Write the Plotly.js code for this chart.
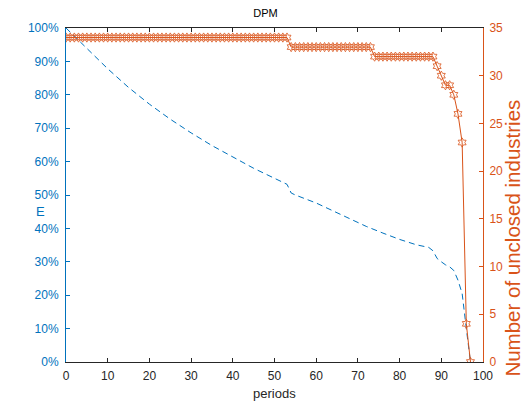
<!DOCTYPE html>
<html>
<head>
<meta charset="utf-8">
<script src="https://cdn.plot.ly/plotly-3.0.1.min.js"></script>
<style>html,body{margin:0;padding:0;background:#fff;}#chart{width:531px;height:403px;}</style>
</head>
<body>
<div id="chart"></div>
<script>
// Number of unclosed industries per period (right axis)
const industryPeriods = [
  0,1,2,3,4,5,6,7,8,9,10,11,12,13,14,15,16,17,18,19,20,21,22,23,24,25,26,27,28,29,
  30,31,32,33,34,35,36,37,38,39,40,41,42,43,44,45,46,47,48,49,50,51,52,53,54,55,56,57,58,59,
  60,61,62,63,64,65,66,67,68,69,70,71,72,73,74,75,76,77,78,79,80,81,82,83,84,85,86,87,88,89,
  90,91,92,93,94,95,96,97
];
const unclosedIndustries = [
  34,34,34,34,34,34,34,34,34,34,
  34,34,34,34,34,34,34,34,34,34,
  34,34,34,34,34,34,34,34,34,34,
  34,34,34,34,34,34,34,34,34,34,
  34,34,34,34,34,34,34,34,34,34,
  34,34,34,34,
  33,33,33,33,33,33,33,33,33,33,
  33,33,33,33,33,33,33,33,33,33,
  32,32,32,32,32,32,32,32,32,32,
  32,32,32,32,32,
  31,30,29,29,28,26,23,4,0
];
// E (left axis), read at the periods where the curve was read
const ePeriods = [0,5,10,15,20,25,30,35,40,45,50,53,54,55,60,64,68,72,76,80,84,87,88,89,90,91,92,93,94,95,96,97];
const eValues  = [1.00,0.94,0.878,0.822,0.772,0.727,0.686,0.648,0.613,0.580,0.550,0.532,0.506,0.500,0.476,0.452,0.428,0.406,0.386,0.367,0.351,0.343,0.333,0.310,0.300,0.291,0.285,0.274,0.245,0.205,0.100,0.0];

const blue = '#0072BD';
const orange = '#D95319';
const font = 'Liberation Sans, Arial, Helvetica, sans-serif';

const traces = [
  {
    x: ePeriods, y: eValues, type: 'scatter', mode: 'lines',
    line: {color: blue, width: 1, dash: '6px,4px'},
    yaxis: 'y', hoverinfo: 'skip'
  },
  {
    x: industryPeriods, y: unclosedIndustries, type: 'scatter', mode: 'lines+markers',
    line: {color: orange, width: 1},
    marker: {symbol: 'hexagram-open', size: 7, color: orange, line: {color: orange, width: 0.8}},
    yaxis: 'y2', hoverinfo: 'skip', cliponaxis: true
  }
];

const layout = {
  width: 531, height: 403,
  margin: {l: 66, r: 48, t: 28, b: 41, pad: 0},
  paper_bgcolor: '#fff', plot_bgcolor: '#fff',
  showlegend: false,
  font: {family: font, size: 12, color: '#262626'},
  title: {text: 'DPM', font: {family: font, size: 11, color: '#000'}, x: 0.5, xanchor: 'center', y: 0.967, yanchor: 'middle'},
  xaxis: {
    range: [0, 100], dtick: 10, tick0: 0,
    showgrid: false, zeroline: false,
    showline: true, linecolor: '#262626', linewidth: 1, mirror: 'ticks',
    ticks: 'inside', ticklen: 4, tickcolor: '#262626', tickwidth: 1,
    ticklabelstandoff: 3,
    tickfont: {family: font, size: 12, color: '#262626'}
  },
  yaxis: {
    range: [0, 1], dtick: 0.1, tick0: 0, tickformat: '.0%',
    showgrid: false, zeroline: false,
    showline: true, linecolor: blue, linewidth: 1,
    ticks: 'inside', ticklen: 4, tickcolor: blue, tickwidth: 1,
    ticklabelstandoff: 4,
    tickfont: {family: font, size: 12, color: blue}
  },
  yaxis2: {
    range: [0, 35], dtick: 5, tick0: 0,
    overlaying: 'y', side: 'right', anchor: 'x',
    showgrid: false, zeroline: false,
    showline: true, linecolor: orange, linewidth: 1,
    ticks: 'inside', ticklen: 4, tickcolor: orange, tickwidth: 1,
    ticklabelstandoff: 3,
    tickfont: {family: font, size: 12, color: orange}
  },
  annotations: [
    {text: 'periods', xref: 'paper', yref: 'paper', x: 0.5, y: -0.093, xanchor: 'center', yanchor: 'middle',
     showarrow: false, font: {family: font, size: 13, color: '#262626'}},
    {text: 'E', xref: 'paper', yref: 'paper', x: -0.062, y: 0.452, xanchor: 'center', yanchor: 'middle',
     showarrow: false, font: {family: font, size: 13, color: blue}},
    {text: 'Number of unclosed industries', xref: 'paper', yref: 'paper', x: 1.07, y: 0.37, xanchor: 'center', yanchor: 'middle',
     textangle: -90, showarrow: false, font: {family: font, size: 20.5, color: orange}}
  ]
};

Plotly.newPlot('chart', traces, layout, {staticPlot: true, displayModeBar: false});
</script>
</body>
</html>
